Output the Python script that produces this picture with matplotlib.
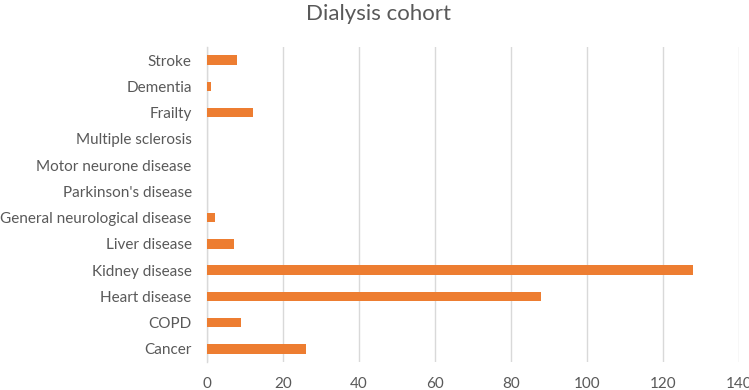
import matplotlib
matplotlib.use("Agg")
import matplotlib.pyplot as plt

CATEGORIES = [
    "Cancer", "COPD", "Heart disease", "Kidney disease", "Liver disease",
    "General neurological disease", "Parkinson's disease", "Motor neurone disease",
    "Multiple sclerosis", "Frailty", "Dementia", "Stroke",
]
COUNTS = [26, 9, 88, 128, 7, 2, 0, 0, 0, 12, 1, 8]
X_TICKS = [0, 20, 40, 60, 80, 100, 120, 140]

ORANGE = "#ED7D31"
GRID = "#D9D9D9"
TEXT = "#595959"

plt.rcParams["font.family"] = ["Lato", "DejaVu Sans"]

fig = plt.figure(figsize=(7.49, 3.9), dpi=100)
ax = fig.add_axes([0.2764, 0.0718, 0.7098, 0.8077])

ax.barh(range(len(CATEGORIES)), COUNTS, height=0.36, color=ORANGE, zorder=3)
ax.set_yticks(range(len(CATEGORIES)))
ax.set_yticklabels(CATEGORIES, fontsize=11, color=TEXT)
ax.set_ylim(-0.5, len(CATEGORIES) - 0.5)

ax.set_xlim(0, 140)
ax.set_xticks(X_TICKS)
ax.set_xticklabels([str(t) for t in X_TICKS], fontsize=11, color=TEXT)
ax.xaxis.grid(True, color=GRID, linewidth=1, zorder=0)
ax.tick_params(axis="both", length=0)
ax.tick_params(axis="x", pad=11)
ax.tick_params(axis="y", pad=11)

for side in ("top", "right", "bottom"):
    ax.spines[side].set_visible(False)
ax.spines["left"].set_color(GRID)
ax.spines["left"].set_linewidth(1)

fig.text(0.505, 0.965, "Dialysis cohort", ha="center", va="center", fontsize=16, color=TEXT)

fig.savefig("out.png", dpi=100)
